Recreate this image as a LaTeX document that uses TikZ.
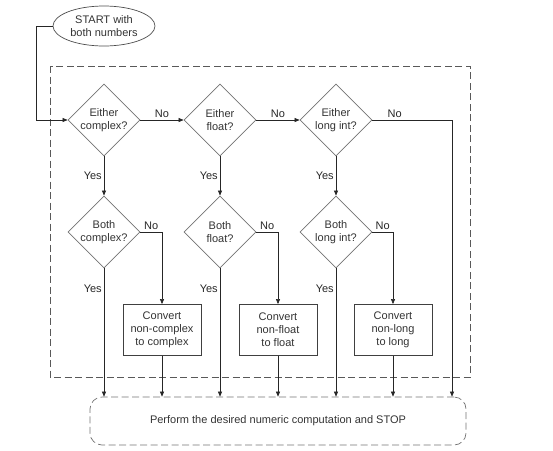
\documentclass[tikz,border=0pt]{standalone}
\usepackage{fontspec}
\setmainfont{Liberation Sans}
\usetikzlibrary{arrows.meta, positioning, shapes}

\begin{document}
\begin{tikzpicture}[
    x=1pt, y=-1pt,
    font=\fontsize{11}{13}\selectfont, text=black!80,
    test/.style={diamond, draw=black!55, line width=0.8pt, align=center, inner sep=-1pt, minimum width=72pt, minimum height=72pt},
    convert/.style={rectangle, draw=black!75, line width=0.8pt, align=center, minimum width=78pt, minimum height=51pt},
    terminal/.style={ellipse, draw=black!70, line width=0.7pt, align=center, minimum width=102pt, minimum height=40pt, inner sep=0pt},
    flow/.style={-{Triangle[length=5pt, width=4pt]}, line width=0.6pt, black!85},
    lbl/.style={inner sep=2pt}
    ]
    \useasboundingbox (0,0) rectangle (553,450);

    % Start
    \node[terminal] (start) at (104,26) {START with\\both numbers};

    % Region of the type tests
    \draw[dashed, dash pattern=on 7pt off 3.5pt, line width=0.7pt, black!65] (50,66) rectangle (470,377);

    % Either tests
    \node[test] (eithercx) at (104,120) {Either\\complex?};
    \node[test] (eitherfl) at (220,120) {Either\\float?};
    \node[test] (eitherlg) at (336,120) {Either\\long int?};

    % Both tests
    \node[test] (bothcx) at (104,232) {Both\\complex?};
    \node[test] (bothfl) at (220,232) {Both\\float?};
    \node[test] (bothlg) at (336,232) {Both\\long int?};

    % Conversions
    \node[convert] (convcx) at (162,330) {Convert\\non-complex\\to complex};
    \node[convert] (convfl) at (278,330) {Convert\\non-float\\to float};
    \node[convert] (convlg) at (393,330) {Convert\\non-long\\to long};

    % Stop
    \node[rectangle, draw=black!55, dashed, dash pattern=on 7pt off 3.5pt, rounded corners=12pt, line width=0.7pt, minimum width=376pt, minimum height=48pt] (stop) at (278,421) {Perform the desired numeric computation and STOP};

    % Start into the first test
    \draw[flow] (start.west) -- ++(-16,0) |- (eithercx);

    % No branches of the either tests
    \draw[flow] (eithercx) -- node[above, lbl] (no1) {No} (eitherfl);
    \draw[flow] (eitherfl) -- node[above, lbl] (no2) {No} (eitherlg);
    \coordinate (rt) at (452,120);
    \draw[flow] (eitherlg) -- node[above, lbl, pos=0.28] (no3) {No} (rt) -- (rt |- stop.north);

    % Yes branches of the either tests
    \draw[flow] (eithercx) -- node[left, lbl] (yes1) {Yes} (bothcx);
    \draw[flow] (eitherfl) -- node[left, lbl] (yes2) {Yes} (bothfl);
    \draw[flow] (eitherlg) -- node[left, lbl] (yes3) {Yes} (bothlg);

    % Both tests
    \draw[flow] (bothcx.east) -| node[above, lbl, pos=0.25] (no4) {No} (convcx);
    \draw[flow] (bothfl.east) -| node[above, lbl, pos=0.25] (no5) {No} (convfl);
    \draw[flow] (bothlg.east) -| node[above, lbl, pos=0.25] (no6) {No} (convlg);
    \draw[flow] (bothcx) -- node[left, lbl, pos=0.16] (yes4) {Yes} (bothcx |- stop.north);
    \draw[flow] (bothfl) -- node[left, lbl, pos=0.16] (yes5) {Yes} (bothfl |- stop.north);
    \draw[flow] (bothlg) -- node[left, lbl, pos=0.16] (yes6) {Yes} (bothlg |- stop.north);

    % Conversions to stop
    \draw[flow] (convcx) -- (convcx |- stop.north);
    \draw[flow] (convfl) -- (convfl |- stop.north);
    \draw[flow] (convlg) -- (convlg |- stop.north);
\end{tikzpicture}
\end{document}
